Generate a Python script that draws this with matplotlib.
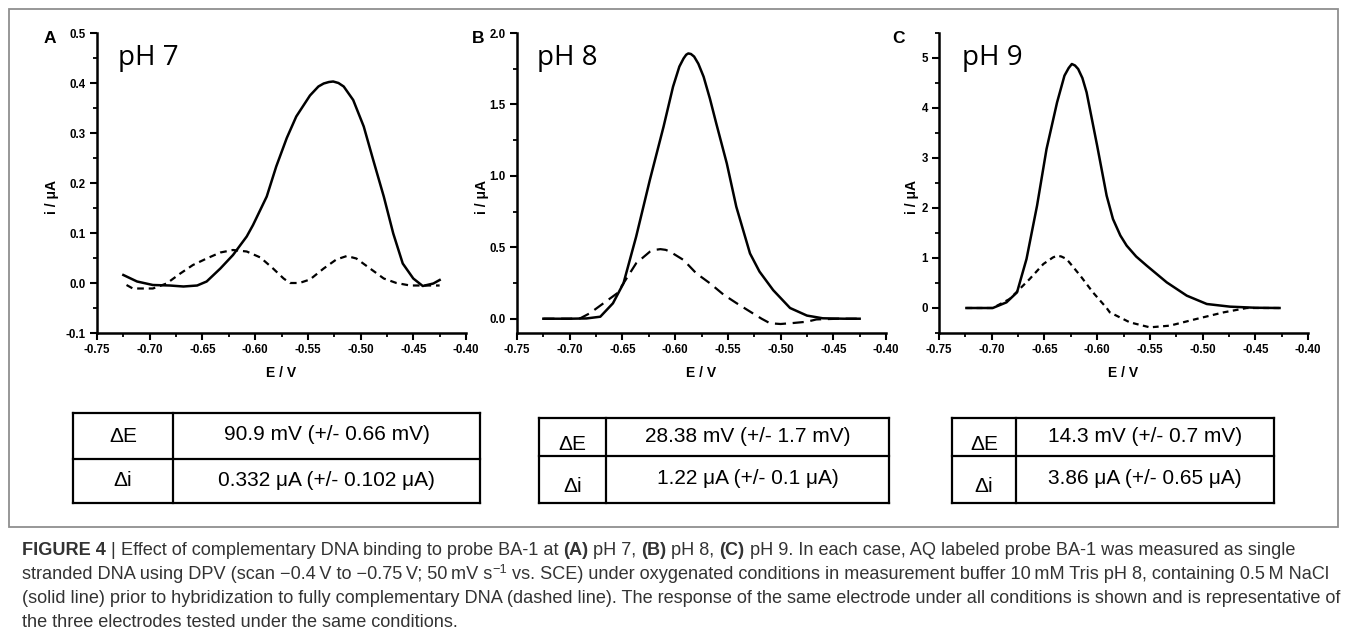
import matplotlib
matplotlib.use("Agg")
import matplotlib.pyplot as plt
from matplotlib.ticker import MultipleLocator, FormatStrFormatter
from matplotlib.patches import Rectangle
from matplotlib.lines import Line2D

plt.rcParams['font.family'] = ['Liberation Sans', 'DejaVu Sans']
plt.rcParams['axes.unicode_minus'] = False

# ---------------- data (E / V, i / uA) ----------------
# Panel A, pH 7
a_solid_E = [-0.725, -0.712, -0.697, -0.681, -0.668, -0.655, -0.646, -0.633, -0.621, -0.608,
             -0.602, -0.589, -0.580, -0.570, -0.561, -0.548, -0.540, -0.535, -0.530, -0.526,
             -0.521, -0.516, -0.507, -0.497, -0.488, -0.478, -0.469, -0.460, -0.450, -0.441,
             -0.431, -0.425]
a_solid_i = [0.016, 0.003, -0.004, -0.005, -0.007, -0.005, 0.003, 0.029, 0.056, 0.093,
             0.116, 0.173, 0.233, 0.290, 0.333, 0.375, 0.393, 0.399, 0.402, 0.403,
             0.400, 0.393, 0.366, 0.313, 0.246, 0.173, 0.099, 0.039, 0.009, -0.006,
             -0.001, 0.006]
a_dash_E = [-0.722, -0.716, -0.697, -0.684, -0.671, -0.659, -0.646, -0.633, -0.621, -0.608,
            -0.595, -0.583, -0.573, -0.567, -0.558, -0.548, -0.535, -0.523, -0.513, -0.504,
            -0.491, -0.478, -0.466, -0.453, -0.441, -0.425]
a_dash_i = [-0.004, -0.011, -0.011, -0.001, 0.019, 0.036, 0.049, 0.061, 0.066, 0.063,
            0.051, 0.029, 0.009, 0.000, 0.000, 0.007, 0.029, 0.047, 0.054, 0.049,
            0.029, 0.009, 0.000, -0.005, -0.005, -0.005]

# Panel B, pH 8
b_solid_E = [-0.725, -0.700, -0.684, -0.671, -0.659, -0.649, -0.637, -0.624, -0.611, -0.602,
             -0.596, -0.592, -0.5895, -0.5875, -0.585, -0.582, -0.578, -0.573, -0.567, -0.561,
             -0.551, -0.542, -0.529, -0.520, -0.507, -0.491, -0.475, -0.460, -0.440, -0.425]
b_solid_i = [0.0, 0.0, 0.002, 0.014, 0.108, 0.248, 0.574, 0.971, 1.344, 1.624,
             1.765, 1.822, 1.848, 1.857, 1.853, 1.835, 1.785, 1.694, 1.540, 1.367,
             1.087, 0.784, 0.457, 0.330, 0.200, 0.075, 0.022, 0.003, 0.0, 0.0]
b_dash_E = [-0.725, -0.700, -0.690, -0.681, -0.668, -0.655, -0.649, -0.637, -0.624, -0.619,
            -0.614, -0.609, -0.605, -0.592, -0.580, -0.567, -0.554, -0.542, -0.529, -0.518,
            -0.510, -0.500, -0.488, -0.475, -0.466, -0.445, -0.425]
b_dash_i = [0.0, 0.0, 0.003, 0.038, 0.108, 0.178, 0.248, 0.388, 0.469, 0.482,
            0.487, 0.482, 0.470, 0.411, 0.318, 0.248, 0.168, 0.110, 0.050, 0.000,
            -0.032, -0.037, -0.030, -0.021, -0.005, 0.0, 0.0]

# Panel C, pH 9
c_solid_E = [-0.724, -0.699, -0.686, -0.676, -0.667, -0.657, -0.648, -0.638, -0.631, -0.627,
             -0.624, -0.621, -0.618, -0.614, -0.610, -0.600, -0.591, -0.585, -0.578, -0.572,
             -0.563, -0.553, -0.534, -0.515, -0.496, -0.474, -0.450, -0.427]
c_solid_i = [0.0, 0.0, 0.113, 0.313, 0.98, 2.047, 3.18, 4.113, 4.647, 4.80,
             4.88, 4.85, 4.78, 4.60, 4.313, 3.247, 2.247, 1.78, 1.45, 1.247,
             1.03, 0.847, 0.513, 0.247, 0.08, 0.027, 0.005, 0.0]
c_dash_E = [-0.724, -0.699, -0.683, -0.664, -0.651, -0.642, -0.638, -0.634, -0.629, -0.616,
            -0.604, -0.591, -0.588, -0.569, -0.550, -0.531, -0.506, -0.480, -0.458, -0.440,
            -0.427]
c_dash_i = [0.0, 0.0, 0.18, 0.58, 0.88, 1.01, 1.047, 1.03, 0.98, 0.647,
            0.313, 0.0, -0.087, -0.287, -0.387, -0.353, -0.22, -0.087, 0.0, 0.0,
            0.0]

panel_letters = ["A", "B", "C"]
panel_titles = ["pH 7", "pH 8", "pH 9"]
y_limits = [(-0.1, 0.5), (-0.1, 2.0), (-0.5, 5.5)]
y_major = [0.1, 0.5, 1.0]
y_formats = ["%.1f", "%.1f", "%d"]
x_label = "E / V"
y_label = "i / \u03bcA"

table_labels = ["\u0394E", "\u0394i"]
table_values = [
    ["90.9 mV (+/- 0.66 mV)", "0.332 \u03bcA (+/- 0.102 \u03bcA)"],
    ["28.38 mV (+/- 1.7 mV)", "1.22 \u03bcA (+/- 0.1 \u03bcA)"],
    ["14.3 mV (+/- 0.7 mV)", "3.86 \u03bcA (+/- 0.65 \u03bcA)"],
]

# ---------------- layout (pixels) ----------------
W, H = 1348, 643
fig = plt.figure(figsize=(W / 100, H / 100), dpi=100)
fig.patch.set_facecolor("white")


def fx(x):
    return x / W


def fy(y):
    return 1 - y / H


axes_left = [97, 517, 939]
axes_top, axes_bottom, axes_w = 33, 333, 369
ylabel_x = [52, 482, 912]
letter_x = [44, 472, 892]
title_x = [118, 537, 962]
dash_styles = [(0, (3.0, 2.2)), (0, (5.0, 3.0)), (0, (2.6, 2.0))]

series = [(a_solid_E, a_solid_i, a_dash_E, a_dash_i),
          (b_solid_E, b_solid_i, b_dash_E, b_dash_i),
          (c_solid_E, c_solid_i, c_dash_E, c_dash_i)]

for k in range(3):
    ax = fig.add_axes([fx(axes_left[k]), fy(axes_bottom), axes_w / W, (axes_bottom - axes_top) / H])
    sE, si, dE, di = series[k]
    ax.plot(dE, di, color="black", lw=1.6, linestyle=dash_styles[k], zorder=2)
    ax.plot(sE, si, color="black", lw=1.8, zorder=3)
    ax.set_xlim(-0.75, -0.40)
    ax.set_ylim(*y_limits[k])
    for s in ["top", "right"]:
        ax.spines[s].set_visible(False)
    for s in ["left", "bottom"]:
        ax.spines[s].set_linewidth(1.8)
    ax.xaxis.set_major_locator(MultipleLocator(0.05))
    ax.xaxis.set_minor_locator(MultipleLocator(0.025))
    ax.xaxis.set_major_formatter(FormatStrFormatter("%.2f"))
    ax.yaxis.set_major_locator(MultipleLocator(y_major[k]))
    ax.yaxis.set_minor_locator(MultipleLocator(y_major[k] / 2))
    ax.yaxis.set_major_formatter(FormatStrFormatter(y_formats[k]))
    ax.tick_params(which="major", direction="out", length=5, width=1.5, pad=3,
                   labelsize=8.3)
    ax.tick_params(which="minor", direction="out", length=3, width=1.3)
    for lab in ax.get_xticklabels() + ax.get_yticklabels():
        lab.set_fontweight("bold")
    ax.patch.set_alpha(0)

    fig.text(fx((axes_left[k] * 2 + axes_w) / 2), fy(373), x_label, ha="center", va="center",
             fontsize=10, fontweight="bold")
    fig.text(fx(ylabel_x[k]), fy(197), y_label, ha="center", va="center", rotation=90,
             fontsize=10, fontweight="bold")
    fig.text(fx(letter_x[k]), fy(43), panel_letters[k], ha="left", va="baseline",
             fontsize=12.5, fontweight="bold")
    fig.text(fx(title_x[k]), fy(65), panel_titles[k], ha="left", va="baseline",
             fontsize=20, family="Open Sans")

# ---------------- tables ----------------
tables_geom = [
    (73, 173, 480, 413, 459, 503),
    (539, 606, 889, 418, 456, 503),
    (952, 1016, 1274, 418, 456, 503),
]
label_dy = [0, 7, 7]
for k, (x0, xd, x1, y0, ym, y1) in enumerate(tables_geom):
    lw = 1.6
    for (xa, ya, xb, yb) in [(x0, y0, x1, y0), (x0, ym, x1, ym), (x0, y1, x1, y1),
                             (x0, y0, x0, y1), (xd, y0, xd, y1), (x1, y0, x1, y1)]:
        fig.add_artist(Line2D([fx(xa), fx(xb)], [fy(ya), fy(yb)], color="black", lw=lw,
                              transform=fig.transFigure, solid_capstyle="projecting"))
    rows = [(y0, ym), (ym, y1)]
    for r in range(2):
        ya, yb = rows[r]
        yc = (ya + yb) / 2
        fig.text(fx((x0 + xd) / 2), fy(yc + label_dy[k]), table_labels[r], ha="center",
                 va="center", fontsize=15)
        fig.text(fx((xd + x1) / 2), fy(yc - 1), table_values[k][r], ha="center", va="center",
                 fontsize=15)

# ---------------- frame ----------------
fig.add_artist(Rectangle((fx(9), fy(527)), (1338 - 9) / W, (527 - 9) / H, fill=False,
                         edgecolor="#8f8f8f", lw=1.3, transform=fig.transFigure))

# ---------------- caption ----------------
cap_color = "#333333"
cap_family = ["Liberation Sans", "DejaVu Sans"]
renderer = fig.canvas.get_renderer()


def seg_width(s, size, weight):
    t1 = fig.text(0, 0, s + "|", fontsize=size, fontweight=weight, family=cap_family)
    t2 = fig.text(0, 0, "|", fontsize=size, fontweight=weight, family=cap_family)
    w = t1.get_window_extent(renderer).width - t2.get_window_extent(renderer).width
    t1.remove()
    t2.remove()
    return w


lines = [
    [("FIGURE 4", "bold", 1, 0), (" | ", "normal", 1, 0),
     ("Effect of complementary DNA binding to probe BA-1 at ", "normal", 1, 0),
     ("(A)", "bold", 1, 0), (" pH 7, ", "normal", 1, 0), ("(B)", "bold", 1, 0),
     (" pH 8, ", "normal", 1, 0), ("(C)", "bold", 1, 0),
     (" pH 9. In each case, AQ labeled probe BA-1 was measured as single", "normal", 1, 0)],
    [("stranded DNA using DPV (scan \u22120.4\u2009V to \u22120.75\u2009V; 50\u2009mV s", "normal", 1, 0),
     ("\u22121", "normal", 0.7, 6),
     (" vs. SCE) under oxygenated conditions in measurement buffer 10\u2009mM Tris pH 8, containing 0.5\u2009M NaCl",
      "normal", 1, 0)],
    [("(solid line) prior to hybridization to fully complementary DNA (dashed line). The response of the same electrode under all conditions is shown and is representative of",
      "normal", 1, 0)],
    [("the three electrodes tested under the same conditions.", "normal", 1, 0)],
]

# fit size so that line 2 spans the caption width
base = 10.0
w2 = sum(seg_width(s, base * sc, wt) for s, wt, sc, dy in lines[1])
cap_size = base * (1335 - 22) / w2

baselines = [555, 579, 603, 627]
for line, yb in zip(lines, baselines):
    x = 22
    for s, wt, sc, dy in line:
        fig.text(fx(x), fy(yb - dy), s, fontsize=cap_size * sc, fontweight=wt, color=cap_color,
                 family=cap_family, ha="left", va="baseline")
        x += seg_width(s, cap_size * sc, wt)

fig.savefig("out.png", dpi=100)
